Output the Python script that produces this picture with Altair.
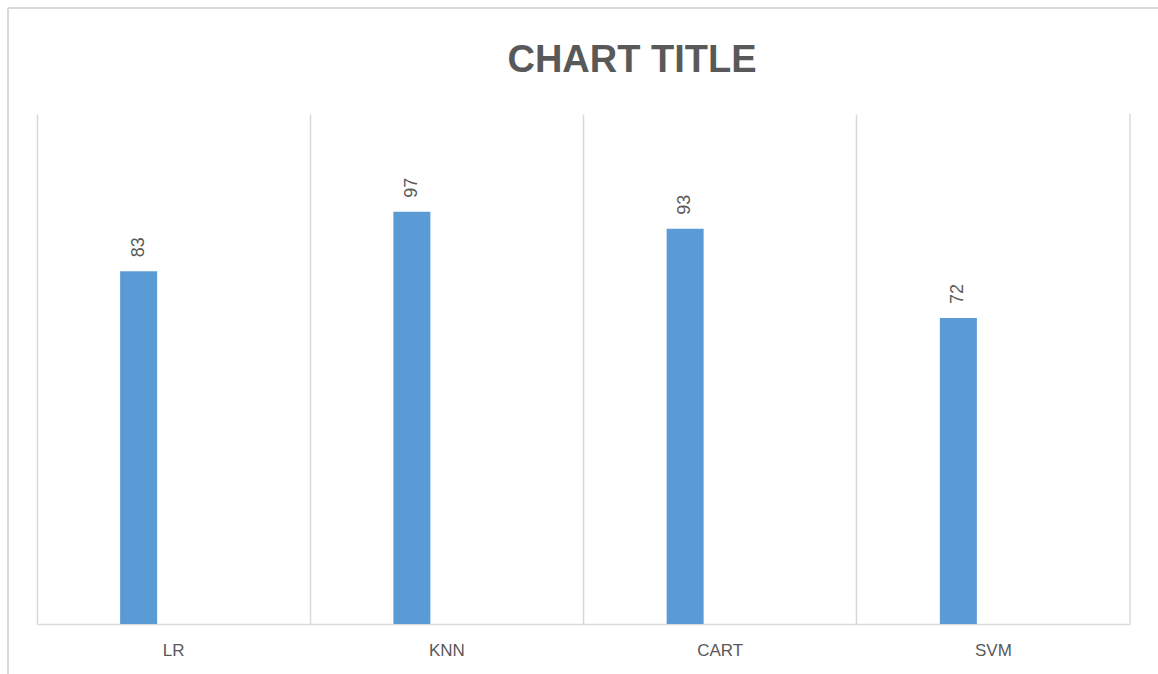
import altair as alt
import pandas as pd

models = ["LR", "KNN", "CART", "SVM"]
scores = [83, 97, 93, 72]
title_text = "CHART TITLE"

df = pd.DataFrame({"model": models, "score": scores})
one = pd.DataFrame({"k": [0]})

W, H = 1093, 510
GRID = "#d9d9d9"
TXT = "#595959"
FONT = "Liberation Sans"

x = alt.X("model:N", sort=models,
          scale=alt.Scale(paddingInner=0, paddingOuter=0),
          axis=alt.Axis(title=None, grid=True, bandPosition=0, gridColor=GRID,
                        gridWidth=1.5, domainColor=GRID, domainWidth=1.5,
                        ticks=False, labelAngle=0, labelFontSize=17,
                        labelFont=FONT, labelColor=TXT, labelPadding=18))
y = alt.Y("score:Q", scale=alt.Scale(domain=[0, 120]), axis=None)

bars = alt.Chart(df).mark_bar(color="#5b9bd5", width=37, xOffset=-35).encode(x=x, y=y)

labels = alt.Chart(df).mark_text(angle=270, align="left", baseline="middle",
                                 dx=14, xOffset=-35, fontSize=18, font=FONT,
                                 color=TXT).encode(
    x=alt.X("model:N", sort=models), y=y, text="score:Q")

right_grid = alt.Chart(one).mark_rule(color=GRID, strokeWidth=1.5).encode(
    x=alt.value(W), y=alt.value(0), y2=alt.value(H))

border_top = alt.Chart(one).mark_rule(color=GRID, strokeWidth=2).encode(
    x=alt.value(-29), x2=alt.value(1200), y=alt.value(-106))
border_left = alt.Chart(one).mark_rule(color=GRID, strokeWidth=2).encode(
    x=alt.value(-29), y=alt.value(-106), y2=alt.value(600))

title = alt.Chart(pd.DataFrame({"t": [title_text]})).mark_text(
    fontSize=38, font=FONT, fontWeight="bold", color=TXT,
    align="center", baseline="alphabetic").encode(
    x=alt.value(595), y=alt.value(-42), text="t:N")

chart = alt.layer(border_top, border_left, right_grid, bars, labels, title).properties(
    width=W, height=H,
    autosize=alt.AutoSizeParams(type="none"),
    padding={"left": 37, "top": 114, "right": 28, "bottom": 50},
    view=alt.ViewBackground(stroke="transparent"),
).configure_view(stroke="transparent").configure(background="white")

chart.save("out.html", embed_options={"renderer": "svg", "actions": False})
